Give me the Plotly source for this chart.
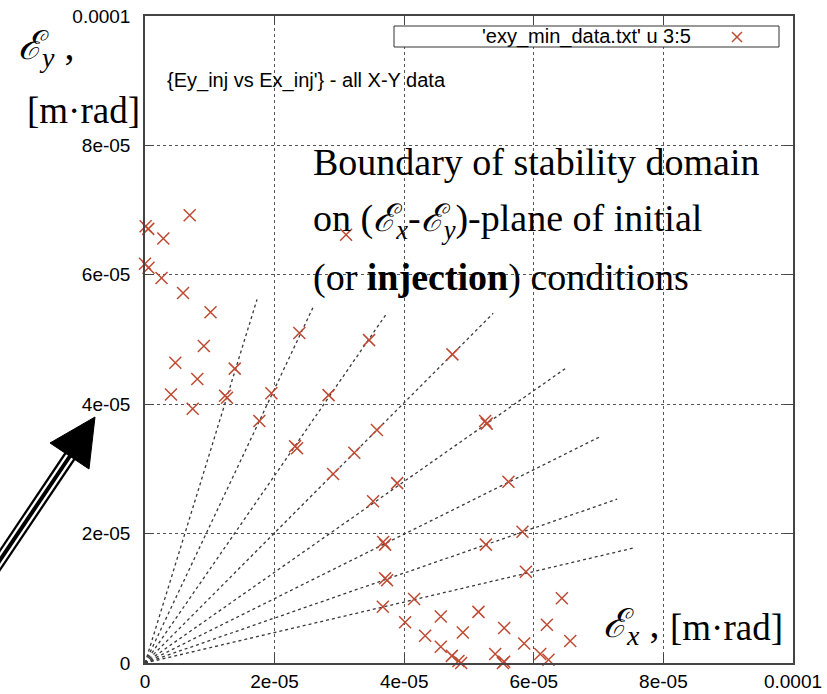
import plotly.graph_objects as go

# ---------------- data ----------------
ex_inj = [0.01e-5, 0.05e-5, 0.283e-5, 0.69e-5, 0.0e-5, 0.054e-5, 0.255e-5, 0.587e-5,
          1.011e-5, 0.908e-5, 0.468e-5, 0.807e-5, 1.385e-5, 2.382e-5, 3.103e-5, 0.401e-5,
          1.235e-5, 1.266e-5, 1.95e-5, 2.833e-5, 0.736e-5, 1.765e-5, 3.458e-5, 4.744e-5,
          3.579e-5, 2.316e-5, 2.347e-5, 3.23e-5, 2.903e-5, 3.891e-5, 3.52e-5, 5.249e-5,
          5.273e-5, 5.609e-5, 5.825e-5, 3.675e-5, 3.705e-5, 5.26e-5, 3.705e-5, 3.736e-5,
          5.878e-5, 3.67e-5, 4.153e-5, 6.433e-5, 4.014e-5, 4.565e-5, 5.146e-5, 4.323e-5,
          4.905e-5, 5.543e-5, 6.202e-5, 4.565e-5, 5.851e-5, 6.562e-5, 4.735e-5, 4.837e-5,
          4.879e-5, 5.404e-5, 5.543e-5, 5.523e-5, 6.099e-5, 6.227e-5]
ey_inj = [6.75e-5, 6.71e-5, 6.56e-5, 6.92e-5, 6.17e-5, 6.11e-5, 5.95e-5, 5.72e-5,
          5.42e-5, 4.90e-5, 4.64e-5, 4.39e-5, 4.55e-5, 5.10e-5, 6.62e-5, 4.15e-5,
          4.13e-5, 4.10e-5, 4.17e-5, 4.14e-5, 3.93e-5, 3.74e-5, 4.99e-5, 4.77e-5,
          3.60e-5, 3.35e-5, 3.32e-5, 3.25e-5, 2.92e-5, 2.78e-5, 2.50e-5, 3.74e-5,
          3.70e-5, 2.80e-5, 2.03e-5, 1.87e-5, 1.83e-5, 1.83e-5, 1.31e-5, 1.28e-5,
          1.41e-5, 0.87e-5, 0.99e-5, 1.00e-5, 0.63e-5, 0.72e-5, 0.79e-5, 0.42e-5,
          0.47e-5, 0.54e-5, 0.59e-5, 0.25e-5, 0.30e-5, 0.34e-5, 0.11e-5, 0.03e-5,
          0.0e-5, 0.14e-5, 0.02e-5, 0.0e-5, 0.14e-5, 0.05e-5]

# end points of the dashed rays from the origin
ray_end_x = [1.729e-5, 2.609e-5, 3.721e-5, 5.373e-5, 6.515e-5, 7.04e-5, 7.287e-5, 7.534e-5]
ray_end_y = [5.62e-5, 5.53e-5, 5.39e-5, 5.405e-5, 4.571e-5, 3.506e-5, 2.533e-5, 1.776e-5]

tick_vals = [0, 2e-5, 4e-5, 6e-5, 8e-5, 1e-4]
tick_text = ["0", "2e-05", "4e-05", "6e-05", "8e-05", "0.0001"]

legend_label = "'exy_min_data.txt' u 3:5"
subtitle = "{Ey_inj vs Ex_inj'} - all X-Y data"

# ---------------- layout geometry (pixels) ----------------
W, H = 827, 694
L, R, T, B = 145, 34, 16, 31
PW, PH = W - L - R, H - T - B


def fx(px):
    return (px - L) / PW


def fy(py):
    return (H - B - py) / PH


RED = "#bf4a33"
GRID = "#555555"
SANS = "Liberation Sans, Arial, sans-serif"
SERIF = "Liberation Serif, Times New Roman, DejaVu Serif, serif"

# rays
rx, ry = [], []
for ex, ey in zip(ray_end_x, ray_end_y):
    rx += [0, ex, None]
    ry += [0, ey, None]

fig = go.Figure()
fig.add_trace(go.Scatter(x=rx, y=ry, mode="lines",
                         line=dict(color="#3a3a3a", width=1.3, dash="3px,3px"),
                         hoverinfo="skip", showlegend=False))
fig.add_trace(go.Scatter(x=ex_inj, y=ey_inj, mode="markers", name=legend_label,
                         marker=dict(symbol="x-thin", size=12,
                                     line=dict(color=RED, width=1.5)),
                         cliponaxis=False, showlegend=False))

axis_common = dict(
    range=[0, 1e-4], tickvals=tick_vals, ticktext=tick_text,
    showgrid=True, gridcolor=GRID, griddash="dot", gridwidth=1,
    showline=True, linecolor="#444444", linewidth=1.5, mirror="ticks",
    ticks="inside", ticklen=9, tickcolor="#444444", tickwidth=1,
    zeroline=False, tickfont=dict(family=SANS, size=19, color="black"),
    fixedrange=True, automargin=False,
)
fig.update_xaxes(**axis_common, ticklabelstandoff=0)
fig.update_yaxes(**axis_common, ticklabelstandoff=9)

shapes = []
# legend box
shapes.append(dict(type="rect", xref="paper", yref="paper",
                   x0=fx(394), x1=fx(779), y0=fy(47), y1=fy(26),
                   line=dict(color="#333333", width=1), fillcolor="white", layer="above"))
# legend marker
cxm, cym, hm = 737, 37, 5
shapes.append(dict(type="line", xref="paper", yref="paper",
                   x0=fx(cxm - hm), y0=fy(cym - hm), x1=fx(cxm + hm), y1=fy(cym + hm),
                   line=dict(color=RED, width=1.5)))
shapes.append(dict(type="line", xref="paper", yref="paper",
                   x0=fx(cxm - hm), y0=fy(cym + hm), x1=fx(cxm + hm), y1=fy(cym - hm),
                   line=dict(color=RED, width=1.5)))

# big arrow (outside plot, left)
sx0, sy0, sx1, sy1 = -8, 572, 70, 456
for wdt, col in [(13, "black"), (8.5, "white"), (4, "black")]:
    shapes.append(dict(type="line", xref="paper", yref="paper",
                       x0=fx(sx0), y0=fy(sy0), x1=fx(sx1), y1=fy(sy1),
                       line=dict(color=col, width=wdt), layer="above"))
tri = [(95, 417), (50, 443), (89, 469)]
path = "M {} {} L {} {} L {} {} Z".format(fx(tri[0][0]), fy(tri[0][1]),
                                          fx(tri[1][0]), fy(tri[1][1]),
                                          fx(tri[2][0]), fy(tri[2][1]))
shapes.append(dict(type="path", xref="paper", yref="paper", path=path,
                   fillcolor="black", line=dict(color="black", width=1), layer="above"))

EPS = "ℰ"
annotations = [
    dict(text=legend_label, x=fx(693), y=fy(37), xanchor="right", yanchor="middle",
         font=dict(family=SANS, size=20, color="black")),
    dict(text=subtitle, x=fx(165), y=fy(80), xanchor="left", yanchor="middle",
         font=dict(family=SANS, size=20, color="black")),
    dict(text="Boundary of stability domain", x=fx(311), y=fy(162),
         xanchor="left", yanchor="middle", font=dict(family=SERIF, size=38, color="black")),
    dict(text="on (<i>" + EPS + "<sub>x</sub></i>-<i>" + EPS + "<sub>y</sub></i>)-plane of initial",
         x=fx(311), y=fy(221), xanchor="left", yanchor="middle",
         font=dict(family=SERIF, size=38, color="black")),
    dict(text="(or <b>injection</b>) conditions", x=fx(311), y=fy(277),
         xanchor="left", yanchor="middle", font=dict(family=SERIF, size=38, color="black")),
    dict(text="<i>" + EPS + "<sub>y</sub></i> ,", x=fx(16), y=fy(48),
         xanchor="left", yanchor="middle", font=dict(family=SERIF, size=40, color="black")),
    dict(text="[m·rad]", x=fx(25), y=fy(110), xanchor="left", yanchor="middle",
         font=dict(family=SERIF, size=37, color="black")),
    dict(text="<i>" + EPS + "<sub>x</sub></i> ,", x=fx(601), y=fy(626),
         xanchor="left", yanchor="middle", font=dict(family=SERIF, size=40, color="black")),
    dict(text="[m·rad]", x=fx(668), y=fy(627), xanchor="left", yanchor="middle",
         bgcolor="white", font=dict(family=SERIF, size=37, color="black")),
]
for a in annotations:
    a.update(xref="paper", yref="paper", showarrow=False)

fig.update_layout(
    width=W, height=H,
    margin=dict(l=L, r=R, t=T, b=B),
    paper_bgcolor="white", plot_bgcolor="white",
    shapes=shapes, annotations=annotations,
    showlegend=False,
)

fig.write_html("out.html")
